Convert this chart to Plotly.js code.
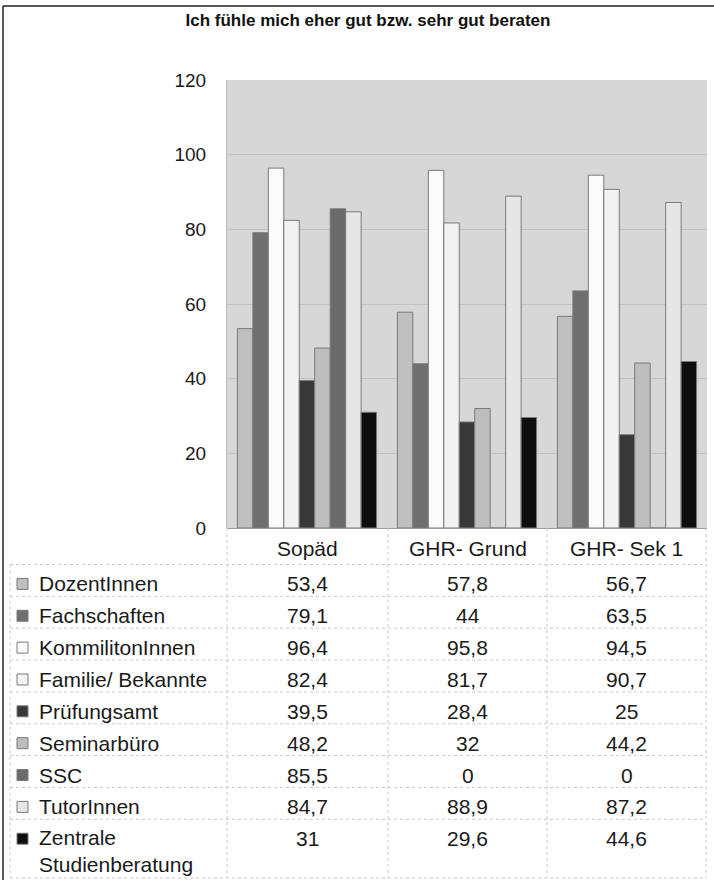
<!DOCTYPE html>
<html>
<head>
<meta charset="utf-8">
<script src="https://cdn.plot.ly/plotly-3.0.1.min.js"></script>
<style>html,body{margin:0;padding:0;background:#fff;}</style>
</head>
<body>
<div id="chart" style="width:714px;height:880px;"></div>
<script>
// ---- data ----
const chartTitle = 'Ich fühle mich eher gut bzw. sehr gut beraten';
const categories = ['Sopäd', 'GHR- Grund', 'GHR- Sek 1'];
const seriesNames = ['DozentInnen', 'Fachschaften', 'KommilitonInnen', 'Familie/ Bekannte',
  'Prüfungsamt', 'Seminarbüro', 'SSC', 'TutorInnen', 'Zentrale Studienberatung'];
const dozentInnen = [53.4, 57.8, 56.7];
const fachschaften = [79.1, 44, 63.5];
const kommilitonInnen = [96.4, 95.8, 94.5];
const familieBekannte = [82.4, 81.7, 90.7];
const pruefungsamt = [39.5, 28.4, 25];
const seminarbuero = [48.2, 32, 44.2];
const ssc = [85.5, 0, 0];
const tutorInnen = [84.7, 88.9, 87.2];
const zentraleStudienberatung = [31, 29.6, 44.6];
const yTickValues = [0, 20, 40, 60, 80, 100, 120];

const seriesValues = [dozentInnen, fachschaften, kommilitonInnen, familieBekannte,
  pruefungsamt, seminarbuero, ssc, tutorInnen, zentraleStudienberatung];
const seriesColors = ['#bfbfbf', '#6f6f6f', '#fbfbfb', '#f2f2f2', '#383838',
  '#bdbdbd', '#6a6a6a', '#e6e6e6', '#0e0e0e'];

// ---- layout helpers (pixel -> paper) ----
const W = 714, H = 880;
const px = x => x / W;
const py = y => 1 - y / H;
const FONT = 'Liberation Sans, Arial, sans-serif';
const TXT = '#1a1a1a';

const traces = seriesNames.map((n, i) => ({
  type: 'bar',
  name: n,
  x: categories,
  y: seriesValues[i],
  marker: { color: seriesColors[i], line: { color: '#7a7a7a', width: 1 } },
  hoverinfo: 'name+y'
}));

// table geometry
const colEdges = [227, 388, 547, 706];
const tableLeft = 10;
const headerY = 548;
const rowTop0 = 564.5;
const rowH = 31.85;
const tableBottom = 878;

const shapes = [];
const annotations = [];
const gridLine = { color: '#c9c9c9', width: 1, dash: 'dot' };

// outer frame (top + left)
shapes.push({ type: 'line', xref: 'paper', yref: 'paper', x0: px(3), x1: px(714), y0: py(6), y1: py(6), line: { color: '#222', width: 1.5 } });
shapes.push({ type: 'line', xref: 'paper', yref: 'paper', x0: px(3), x1: px(3), y0: py(6), y1: py(880), line: { color: '#222', width: 1.5 } });

// vertical table lines
colEdges.forEach(x => shapes.push({ type: 'line', xref: 'paper', yref: 'paper', x0: px(x), x1: px(x), y0: py(528), y1: py(tableBottom), line: gridLine }));
shapes.push({ type: 'line', xref: 'paper', yref: 'paper', x0: px(tableLeft), x1: px(tableLeft), y0: py(rowTop0), y1: py(tableBottom), line: gridLine });
// horizontal table lines
for (let r = 0; r < seriesNames.length; r++) {
  const y = rowTop0 + r * rowH;
  shapes.push({ type: 'line', xref: 'paper', yref: 'paper', x0: px(tableLeft), x1: px(706), y0: py(y), y1: py(y), line: gridLine });
}
shapes.push({ type: 'line', xref: 'paper', yref: 'paper', x0: px(tableLeft), x1: px(706), y0: py(tableBottom), y1: py(tableBottom), line: gridLine });

const fmt = v => String(v).replace('.', ',');
const colCenter = c => (colEdges[c] + colEdges[c + 1]) / 2;

// header
categories.forEach((c, j) => annotations.push({
  xref: 'paper', yref: 'paper', x: px(colCenter(j)), y: py(headerY), text: c, showarrow: false,
  xanchor: 'center', yanchor: 'middle', font: { family: FONT, size: 21, color: TXT }
}));

// rows
seriesNames.forEach((n, i) => {
  const cy = rowTop0 + i * rowH + rowH / 2 + 3.5;
  shapes.push({ type: 'rect', xref: 'paper', yref: 'paper', x0: px(17), x1: px(28), y0: py(cy - 5.5), y1: py(cy + 5.5),
    fillcolor: seriesColors[i], line: { color: '#7a7a7a', width: 1 } });
  let label = n;
  if (label.length > 18) { const k = label.lastIndexOf(' '); label = label.slice(0, k) + '<br>' + label.slice(k + 1); }
  const multi = label.includes('<br>');
  annotations.push({
    xref: 'paper', yref: 'paper', x: px(37), y: multi ? py(cy - 15) : py(cy), text: label, showarrow: false,
    xanchor: 'left', yanchor: multi ? 'top' : 'middle', align: 'left',
    font: { family: FONT, size: 21, color: TXT }
  });
  seriesValues[i].forEach((v, j) => annotations.push({
    xref: 'paper', yref: 'paper', x: px(colCenter(j)), y: py(cy), text: fmt(v), showarrow: false,
    xanchor: 'center', yanchor: 'middle', font: { family: FONT, size: 21, color: TXT }
  }));
});

const layout = {
  width: W, height: H,
  margin: { l: 0, r: 0, t: 0, b: 0 },
  paper_bgcolor: '#ffffff',
  plot_bgcolor: '#d7d7d7',
  showlegend: false,
  barmode: 'group',
  bargap: 0.13,
  bargroupgap: 0,
  title: { text: chartTitle, x: px(368), xanchor: 'center', y: py(20), yanchor: 'middle',
    font: { family: FONT, size: 17, color: '#111', weight: 'bold' } },
  xaxis: {
    domain: [px(227), px(707)],
    type: 'category',
    showticklabels: false,
    ticks: '',
    showgrid: false,
    showline: false,
    zeroline: false
  },
  yaxis: {
    domain: [py(528), py(80)],
    range: [0, 120],
    tickvals: yTickValues,
    ticktext: yTickValues.map(String),
    ticks: '',
    ticklabelstandoff: 16,
    tickfont: { family: FONT, size: 19, color: TXT },
    showgrid: true,
    gridcolor: '#c2c2c2',
    gridwidth: 1,
    zeroline: true,
    zerolinecolor: '#9a9a9a',
    showline: true,
    linecolor: '#bdbdbd',
    linewidth: 1
  },
  shapes: shapes,
  annotations: annotations
};

Plotly.newPlot('chart', traces, layout, { displayModeBar: false, staticPlot: true });
</script>
</body>
</html>
